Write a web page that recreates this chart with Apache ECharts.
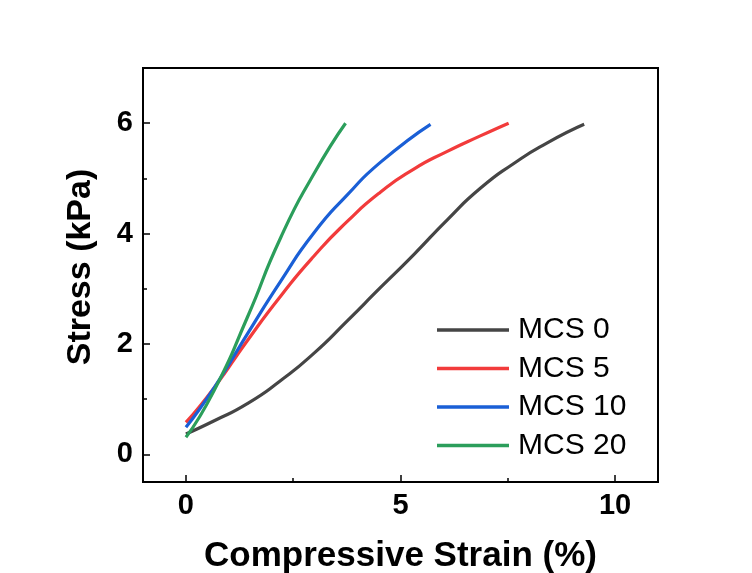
<!DOCTYPE html>
<html>
<head>
<meta charset="utf-8">
<script src="https://cdn.jsdelivr.net/npm/echarts@6/dist/echarts.min.js"></script>
<style>
  html, body { margin: 0; padding: 0; background: #ffffff; }
  #chart { width: 752px; height: 573px; }
</style>
</head>
<body>
<div id="chart"></div>
<script>
// Stress–strain curves: [strain %, stress kPa]
const seriesNames = ['MCS 0', 'MCS 5', 'MCS 10', 'MCS 20'];
const mcs0 = [[0, 0.37], [0.66, 0.61], [1.43, 0.92], [2.21, 1.34], [2.98, 1.83], [3.76, 2.42], [4.53, 3.02], [5.31, 3.62], [6.09, 4.25], [6.86, 4.82], [7.64, 5.27], [8.41, 5.64], [9.28, 5.98]];
const mcs5 = [[0, 0.58], [0.66, 1.21], [1.43, 2.06], [2.21, 2.87], [2.98, 3.59], [3.76, 4.22], [4.53, 4.75], [5.31, 5.17], [6.09, 5.49], [6.86, 5.77], [7.52, 6.0]];
const mcs10 = [[0, 0.49], [0.66, 1.21], [1.43, 2.18], [2.21, 3.14], [2.98, 4.01], [3.76, 4.7], [4.53, 5.29], [5.7, 5.98]];
const mcs20 = [[0, 0.31], [0.66, 1.16], [1.43, 2.48], [2.21, 3.93], [2.98, 5.08], [3.72, 6.0]];
const xMajorTicks = [0, 5, 10];
const xMinorTicks = [2.5, 7.5];
const yMajorTicks = [0, 2, 4, 6];
const yMinorTicks = [1, 3, 5];

const colors = ['#454545', '#f23b3b', '#1a5fd6', '#2b9e5b'];
const font = 'Liberation Sans, Arial, Helvetica, sans-serif';
const allData = [mcs0, mcs5, mcs10, mcs20];

const chart = echarts.init(document.getElementById('chart'), null, { renderer: 'canvas' });

const axisLineStyle = { color: '#000', width: 2 };

chart.setOption({
  animation: false,
  backgroundColor: '#ffffff',
  color: colors,
  grid: {
    left: 143, top: 68, right: 94, bottom: 91,
    containLabel: false, outerBoundsMode: 'none',
    show: true, borderColor: '#000', borderWidth: 2, backgroundColor: 'transparent'
  },
  legend: {
    orient: 'vertical',
    left: 437, top: 315, padding: 0,
    itemWidth: 72, itemHeight: 14, itemGap: 8.5,
    icon: 'path://M0,5.25 L72,5.25 L72,8.75 L0,8.75 Z',
    textStyle: { fontFamily: font, fontSize: 30, color: '#000', lineHeight: 30, padding: [0, 0, 0, 4] },
    data: seriesNames.map((n, i) => ({ name: n, itemStyle: { color: colors[i] } }))
  },
  xAxis: [
    {
      type: 'value', min: -1, max: 11,
      name: 'Compressive Strain (%)', nameLocation: 'middle', nameGap: 57,
      nameTextStyle: { fontFamily: font, fontSize: 35, fontWeight: 'bold', color: '#000' },
      axisLine: { show: true, onZero: false, lineStyle: axisLineStyle },
      axisTick: { show: true, inside: true, length: 7, customValues: xMajorTicks, lineStyle: { color: '#000', width: 1.5 } },
      axisLabel: { customValues: xMajorTicks, margin: 9, fontFamily: font, fontSize: 29, fontWeight: 'bold', color: '#000' },
      splitLine: { show: false }
    },
    {
      type: 'value', min: -1, max: 11, position: 'bottom',
      axisLine: { show: false, onZero: false },
      axisTick: { show: true, inside: true, length: 4, customValues: xMinorTicks, lineStyle: { color: '#000', width: 1.5 } },
      axisLabel: { show: false },
      splitLine: { show: false }
    }
  ],
  yAxis: [
    {
      type: 'value', min: -0.5, max: 7,
      name: 'Stress (kPa)', nameLocation: 'middle', nameGap: 45,
      nameTextStyle: { fontFamily: font, fontSize: 34, fontWeight: 'bold', color: '#000', padding: [0, 0, 0, 16] },
      axisLine: { show: true, onZero: false, lineStyle: axisLineStyle },
      axisTick: { show: true, inside: true, length: 7, customValues: yMajorTicks, lineStyle: { color: '#000', width: 1.5 } },
      axisLabel: { customValues: yMajorTicks, margin: 10, fontFamily: font, fontSize: 29, fontWeight: 'bold', color: '#000' },
      splitLine: { show: false }
    },
    {
      type: 'value', min: -0.5, max: 7, position: 'left',
      axisLine: { show: false, onZero: false },
      axisTick: { show: true, inside: true, length: 4, customValues: yMinorTicks, lineStyle: { color: '#000', width: 1.5 } },
      axisLabel: { show: false },
      splitLine: { show: false }
    }
  ],
  series: allData.map((d, i) => ({
    name: seriesNames[i],
    type: 'line',
    xAxisIndex: 0, yAxisIndex: 0,
    data: d,
    smooth: 0.6,
    symbol: 'none',
    lineStyle: { color: colors[i], width: 3.2 },
    itemStyle: { color: colors[i] },
    z: 2 + i
  }))
});
</script>
</body>
</html>
